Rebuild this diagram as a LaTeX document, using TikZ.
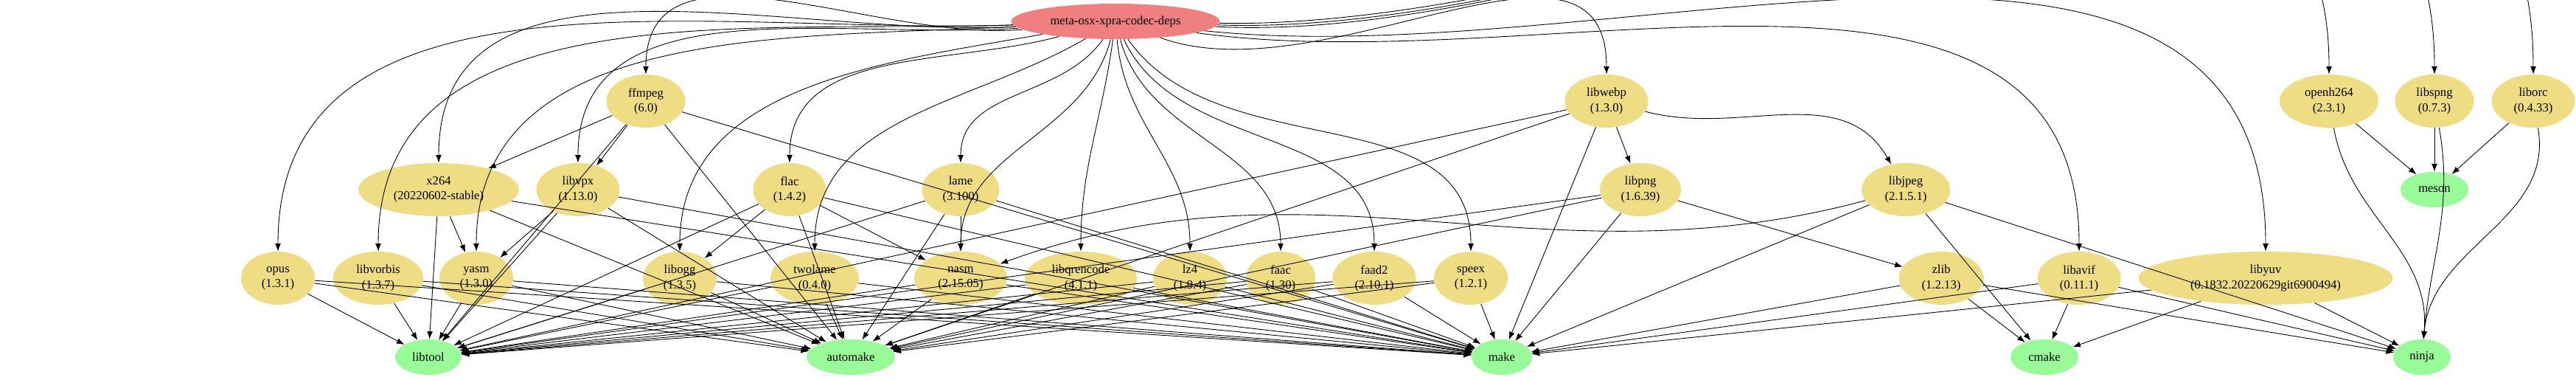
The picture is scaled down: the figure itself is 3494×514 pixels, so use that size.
\documentclass[tikz,border=0pt]{standalone}
\usepackage{fontspec}
\setmainfont{Liberation Serif}
\usetikzlibrary{arrows.meta,shapes.geometric}
\begin{document}
\begin{tikzpicture}[x=0.02cm,y=-0.02cm,
 nd/.style={ellipse,fill=ylw,inner sep=0pt,align=center,font=\fontsize{9.5}{11.5}\selectfont,minimum height=72*0.02cm,minimum width=#1*0.02cm},
 leaf/.style={ellipse,fill=grn,inner sep=0pt,font=\fontsize{9.5}{11.5}\selectfont,minimum height=48*0.02cm,minimum width=#1*0.02cm},
 e/.style={-{Latex[length=6pt,width=4.5pt]},line width=0.5pt}]
\definecolor{ylw}{HTML}{EEDD82}\definecolor{grn}{HTML}{98FB98}\definecolor{rt}{HTML}{F08080}
\useasboundingbox (0,0) rectangle (3494,514);
\node[ellipse,fill=rt,inner sep=0pt,minimum width=283*0.02cm,minimum height=48*0.02cm,font=\fontsize{9.5}{11.5}\selectfont] (root) at (1513,29) {meta-osx-xpra-codec-deps};
% row 1
\node[nd=107] (ffmpeg) at (876,137) {ffmpeg\\(6.0)};
\node[nd=113] (libwebp) at (2179,137) {libwebp\\(1.3.0)};
\node[nd=134] (openh264) at (3159,137) {openh264\\(2.3.1)};
\node[nd=107] (libspng) at (3302,137) {libspng\\(0.7.3)};
\node[nd=113] (liborc) at (3436,137) {liborc\\(0.4.33)};
% row 2
\node[nd=218] (x264) at (595,257) {x264\\(20220602-stable)};
\node[nd=113] (libvpx) at (784,257) {libvpx\\(1.13.0)};
\node[nd=99] (flac) at (1071,257) {flac\\(1.4.2)};
\node[nd=105] (lame) at (1303,257) {lame\\(3.100)};
\node[nd=110] (libpng) at (2225,257) {libpng\\(1.6.39)};
\node[nd=120] (libjpeg) at (2585,257) {libjpeg\\(2.1.5.1)};
\node[leaf=92] (meson) at (3302,257) {meson};
% row 3
\node[nd=100] (opus) at (377,377) {opus\\(1.3.1)};
\node[nd=122] (libvorbis) at (513,377) {libvorbis\\(1.3.7)};
\node[nd=100] (yasm) at (646,377) {yasm\\(1.3.0)};
\node[nd=100] (libogg) at (922,377) {libogg\\(1.3.5)};
\node[nd=120] (twolame) at (1105,377) {twolame\\(0.4.0)};
\node[nd=126] (nasm) at (1303,377) {nasm\\(2.15.05)};
\node[nd=152] (libqrencode) at (1466,377) {libqrencode\\(4.1.1)};
\node[nd=100] (lz4) at (1614,377) {lz4\\(1.9.4)};
\node[nd=94] (faac) at (1737,377) {faac\\(1.30)};
\node[nd=113] (faad2) at (1864,377) {faad2\\(2.10.1)};
\node[nd=100] (speex) at (1995,377) {speex\\(1.2.1)};
\node[nd=115] (zlib) at (2633,377) {zlib\\(1.2.13)};
\node[nd=113] (libavif) at (2820,377) {libavif\\(0.11.1)};
\node[nd=345] (libyuv) at (3073,377) {libyuv\\(0.1832.20220629git6900494)};
% bottom
\node[leaf=90] (libtool) at (581,484) {libtool};
\node[leaf=120] (automake) at (1154,484) {automake};
\node[leaf=82] (make) at (2037,484) {make};
\node[leaf=92] (cmake) at (2773,484) {cmake};
\node[leaf=78] (ninja) at (3285,484) {ninja};
% root edges (curved)
\foreach \t/\o in {opus/182,libvorbis/182,yasm/183,x264/183,libvpx/184,ffmpeg/185,libogg/190,flac/195,twolame/210,lame/235,nasm/255,libqrencode/262,lz4/275,faac/285,faad2/295,speex/305}
  \draw[e] (root) to[out=\o,in=90] (\t);
\foreach \t/\o in {libwebp/-20,libavif/-8,libyuv/-6,openh264/-3,libspng/-2,liborc/-1}
  \draw[e] (root) to[out=\o,in=90] (\t);
% intermediate edges
\draw[e] (ffmpeg) -- (x264); \draw[e] (ffmpeg) -- (libvpx);
\draw[e] (x264) -- (yasm); \draw[e] (libvpx) -- (yasm);
\draw[e] (flac) -- (libogg); \draw[e] (flac) -- (nasm);
\draw[e] (lame) -- (nasm);
\draw[e] (libwebp) -- (libpng); \draw[e] (libwebp) to[out=-15,in=120] (libjpeg);
\draw[e] (libpng) -- (zlib); \draw[e] (libjpeg) to[out=195,in=20] (nasm);
% to build tools
\foreach \s in {ffmpeg,x264,libvpx,flac,lame,opus,libvorbis,yasm,libogg,twolame,nasm,libqrencode,lz4,faac,faad2,speex,libpng,libwebp}{
  \draw[e] (\s) -- (libtool);
  \draw[e] (\s) -- (automake);
  \draw[e] (\s) -- (make);}
\foreach \s in {libjpeg,zlib,libavif,libyuv}{
  \draw[e] (\s) -- (make);
  \draw[e] (\s) -- (cmake);
  \draw[e] (\s) -- (ninja);}
\foreach \s in {openh264,libspng,liborc}{
  \draw[e] (\s) -- (meson);
  \draw[e] (\s) to[out=-80,in=85] (ninja);}
\end{tikzpicture}
\end{document}
